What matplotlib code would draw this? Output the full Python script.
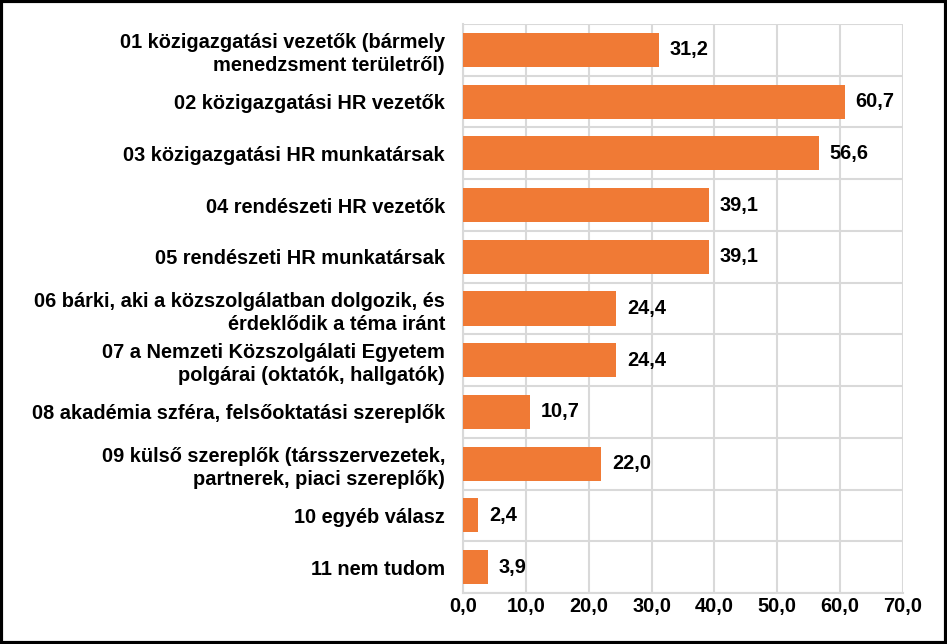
import matplotlib
matplotlib.use("Agg")
import matplotlib.pyplot as plt
import numpy as np

categories = [
    "01 közigazgatási vezetők (bármely\nmenedzsment területről)",
    "02 közigazgatási HR vezetők",
    "03 közigazgatási HR munkatársak",
    "04 rendészeti HR vezetők",
    "05 rendészeti HR munkatársak",
    "06 bárki, aki a közszolgálatban dolgozik, és\nérdeklődik a téma iránt",
    "07 a Nemzeti Közszolgálati Egyetem\npolgárai (oktatók, hallgatók)",
    "08 akadémia szféra, felsőoktatási szereplők",
    "09 külső szereplők (társszervezetek,\npartnerek, piaci szereplők)",
    "10 egyéb válasz",
    "11 nem tudom",
]
values = [31.2, 60.7, 56.6, 39.1, 39.1, 24.4, 24.4, 10.7, 22.0, 2.4, 3.9]
xticks = [0, 10, 20, 30, 40, 50, 60, 70]

plt.rcParams['font.family'] = ['Liberation Sans', 'DejaVu Sans']
plt.rcParams['font.weight'] = 'bold'
FS = 14.4

fig = plt.figure(figsize=(9.47, 6.44), dpi=100)
ax = fig.add_axes([0.489, 0.0792, 0.4645, 0.8835])

n = len(categories)
y = np.arange(n)
ax.barh(y, values, height=0.66, color='#F07A35', zorder=3)
ax.set_ylim(n - 0.5, -0.5)
ax.set_xlim(0, 70)
ax.set_xticks(xticks)
ax.set_xticklabels([f"{v:.1f}".replace('.', ',') for v in xticks], fontsize=FS, fontweight='bold')
ax.set_yticks(y)
ax.set_yticklabels(categories, fontsize=FS, fontweight='bold', linespacing=1.28)
ax.set_yticks(np.arange(n + 1) - 0.5, minor=True)
ax.tick_params(axis='both', which='both', length=0)
ax.tick_params(axis='y', pad=13)
ax.tick_params(axis='x', pad=3)
ax.grid(axis='x', color='#D9D9D9', linewidth=1.5, zorder=0)
ax.grid(axis='y', which='minor', color='#D9D9D9', linewidth=1.5, zorder=0)
for s in ax.spines.values():
    s.set_color('#D9D9D9')
    s.set_linewidth(1.5)
ax.spines['top'].set_visible(False)
ax.spines['right'].set_visible(False)

for yi, v in zip(y, values):
    ax.text(v + 1.7, yi, f"{v:.1f}".replace('.', ','), va='center', ha='left',
            fontsize=FS, fontweight='bold', zorder=4)

border = plt.Rectangle((0.0015, 0.002), 0.997, 0.996, transform=fig.transFigure,
                       fill=False, edgecolor='black', linewidth=3)
fig.patches.append(border)

fig.savefig("out.png", dpi=100, facecolor='white')
